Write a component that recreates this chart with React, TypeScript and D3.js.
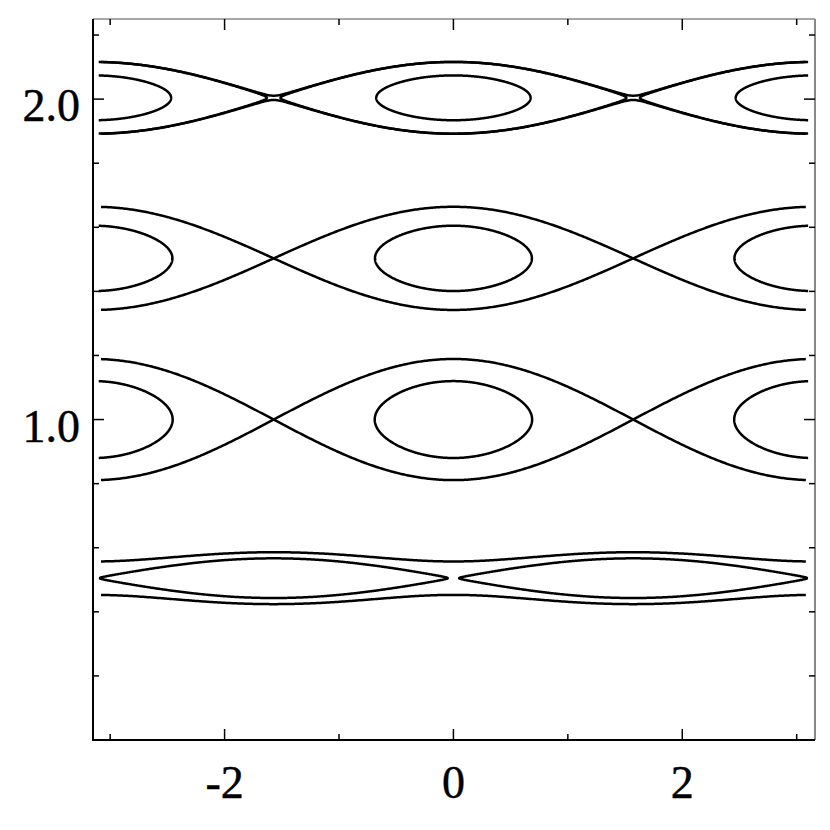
import React from "react";
import * as d3 from "d3";

// ---- Data ----
// Resonance chains: centre in y, separatrix half-width, x of one O-point
const resonanceCenters = [2.004, 1.503, 1.0, 0.505];
const separatrixHalfWidths = [0.112, 0.161, 0.189, 0.062];
const oPointPhase = [0, 0, 0, Math.PI / 2];
// Orbit levels h / W^2 per resonance (<1 trapped, =1 separatrix, >1 passing)
const orbitLevels = [
  [0.39, 0.9965, 1.0035],
  [0.401, 1],
  [0.403, 1],
  [0.9975, 1.707],
];
const xTicksMajor = [-2, 0, 2];
const xTicksMinor = [-3, -1, 1, 3];
const yTicks = [0.2, 0.4, 0.6, 0.8, 1.0, 1.2, 1.4, 1.6, 1.8, 2.0, 2.2];
const yTickLabels = [1.0, 2.0];
const xDomain = [-3.15, 3.16];
const yDomain = [0, 2.25];
const openRange = [-3.08, 3.08];

const W = 830;
const H = 830;
const left = 93;
const right = 815;
const top = 19;
const bottom = 740;

export default function App() {
  const x = d3.scaleLinear().domain(xDomain).range([left, right]);
  const y = d3.scaleLinear().domain(yDomain).range([bottom, top]);
  const line = d3
    .line<[number, number]>()
    .x((d) => x(d[0]))
    .y((d) => y(d[1]));
  const closed = d3
    .line<[number, number]>()
    .x((d) => x(d[0]))
    .y((d) => y(d[1]))
    .curve(d3.curveLinearClosed);

  const paths: { d: string; clip: boolean }[] = [];
  const N = 500;
  const xs = d3.range(N + 1).map((i) => openRange[0] + ((openRange[1] - openRange[0]) * i) / N);

  resonanceCenters.forEach((y0, ri) => {
    const w = separatrixHalfWidths[ri];
    const ph = oPointPhase[ri];
    orbitLevels[ri].forEach((r) => {
      if (r === 1) {
        [1, -1].forEach((s) => {
          const pts = xs.map((xx) => [xx, y0 + s * w * Math.cos(xx - ph)] as [number, number]);
          paths.push({ d: line(pts) || "", clip: false });
        });
      } else if (r > 1) {
        [1, -1].forEach((s) => {
          const pts = xs.map(
            (xx) => [xx, y0 + s * w * Math.sqrt(r - Math.sin(xx - ph) ** 2)] as [number, number]
          );
          paths.push({ d: line(pts) || "", clip: false });
        });
      } else {
        const k = Math.sqrt(r);
        const centres = d3.range(-3, 4).map((m) => ph + m * Math.PI).filter((c) => c > -4.5 && c < 4.5);
        centres.forEach((c) => {
          const pts = d3.range(720).map((i) => {
            const t = (2 * Math.PI * i) / 720;
            return [c + Math.asin(k * Math.sin(t)), y0 + w * k * Math.cos(t)] as [number, number];
          });
          paths.push({ d: closed(pts) || "", clip: true });
        });
      }
    });
  });

  const font = "'Liberation Serif', 'Times New Roman', serif";

  return (
    <svg width={W} height={H} style={{ position: "absolute", left: 0, top: 0, background: "#fff" }}>
      <defs>
        <clipPath id="plotclip">
          <rect x={x(-3.1)} y={top} width={x(3.1) - x(-3.1)} height={bottom - top} />
        </clipPath>
      </defs>
      <rect x={0} y={0} width={W} height={H} fill="#fff" />
      <g fill="none" stroke="#000" strokeWidth={2.5} strokeLinejoin="round">
        {paths.map((p, i) => (
          <path key={i} d={p.d} clipPath={p.clip ? "url(#plotclip)" : undefined} />
        ))}
      </g>
      {/* frame */}
      <line x1={left} x2={right} y1={top} y2={top} stroke="#888" strokeWidth={1.5} />
      <line x1={right} x2={right} y1={top} y2={bottom} stroke="#888" strokeWidth={2} />
      <line x1={left} x2={left} y1={top} y2={bottom + 1} stroke="#000" strokeWidth={2} />
      <line x1={left} x2={right} y1={bottom} y2={bottom} stroke="#000" strokeWidth={2} />
      {/* ticks */}
      <g stroke="#000" strokeWidth={1.5}>
        {xTicksMajor.map((t) => (
          <g key={"M" + t}>
            <line x1={x(t)} x2={x(t)} y1={bottom} y2={bottom - 11} />
            <line x1={x(t)} x2={x(t)} y1={top} y2={top + 11} />
          </g>
        ))}
        {xTicksMinor.map((t) => (
          <g key={"m" + t}>
            <line x1={x(t)} x2={x(t)} y1={bottom} y2={bottom - 6} />
            <line x1={x(t)} x2={x(t)} y1={top} y2={top + 6} />
          </g>
        ))}
        {yTicks.map((t) => {
          const len = yTickLabels.some((v) => Math.abs(v - t) < 1e-9) ? 11 : 6;
          return (
            <g key={"y" + t}>
              <line x1={left} x2={left + len} y1={y(t)} y2={y(t)} />
              <line x1={right} x2={right - len} y1={y(t)} y2={y(t)} />
            </g>
          );
        })}
      </g>
      {/* labels */}
      <g fontFamily={font} fontSize={46} fill="#000" stroke="#000" strokeWidth={0.45}>
        {xTicksMajor.map((t) => (
          <text key={"xl" + t} x={x(t)} y={798} textAnchor="middle">
            {t < 0 ? "-" + Math.abs(t) : String(t)}
          </text>
        ))}
        {yTickLabels.map((t) => (
          <text key={"yl" + t} x={80} y={y(t) + 22} textAnchor="end">
            {t.toFixed(1)}
          </text>
        ))}
      </g>
    </svg>
  );
}
